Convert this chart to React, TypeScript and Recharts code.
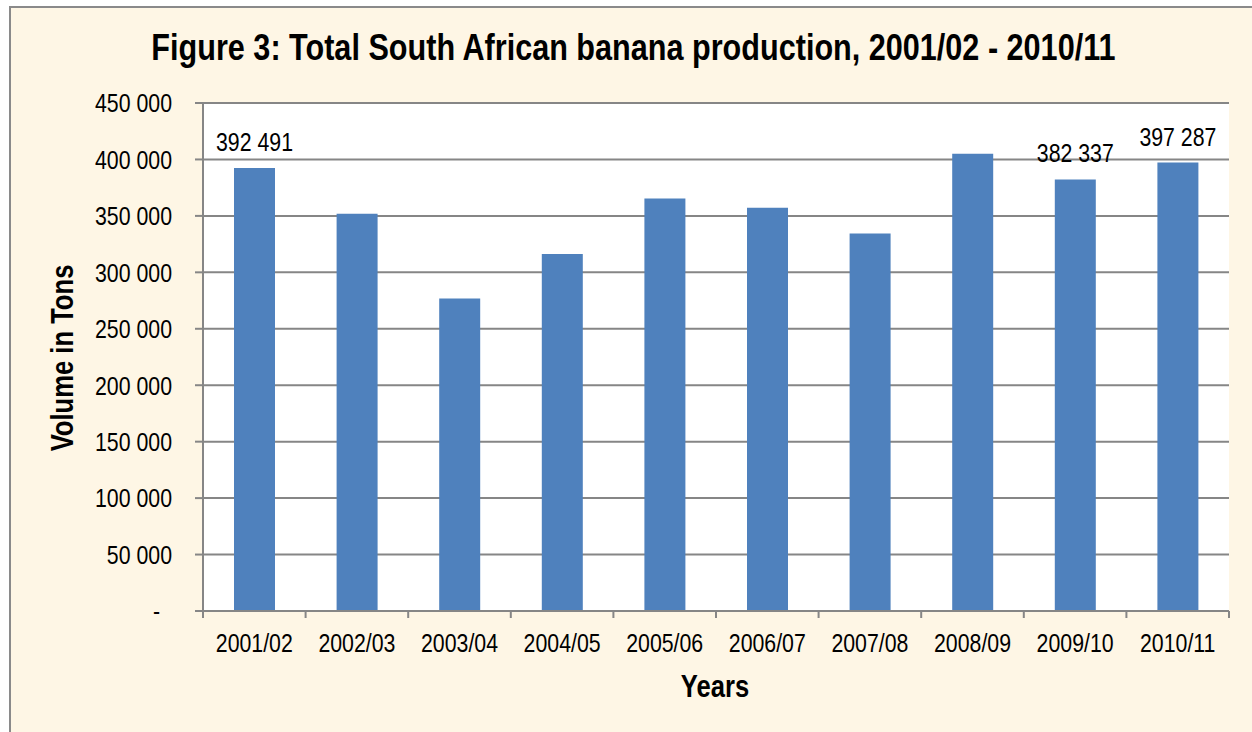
import React from "react";
import { BarChart, Bar, XAxis, YAxis, CartesianGrid, LabelList, Label } from "recharts";

const years = ["2001/02", "2002/03", "2003/04", "2004/05", "2005/06", "2006/07", "2007/08", "2008/09", "2009/10", "2010/11"];
const production = [392491, 352000, 276800, 316300, 365300, 357300, 334300, 405100, 382337, 397287];
const shownLabels = ["392 491", "", "", "", "", "", "", "", "382 337", "397 287"];
const yTicks = [0, 50000, 100000, 150000, 200000, 250000, 300000, 350000, 400000, 450000];

const data = years.map((y, i) => ({ year: y, value: production[i], label: shownLabels[i] }));

const FONT = "'Liberation Sans', Arial, sans-serif";
const GRID = "#868686";
const SX = 0.82;

const fmt = (v: number) => {
  if (v === 0) return "-";
  return String(v).replace(/\B(?=(\d{3})+(?!\d))/g, " ");
};

const NText = (p: any) => {
  const { x, y, anchor = "middle", size = 26, bold = false, rotate = 0, sx = SX, dy, children } = p;
  const rot = rotate ? ` rotate(${rotate})` : "";
  return (
    <text
      transform={`translate(${x},${y})${rot} scale(${sx},1)`}
      dy={dy}
      textAnchor={anchor}
      fontFamily={FONT}
      fontSize={size}
      fontWeight={bold ? "bold" : "normal"}
      fill="#000"
    >
      {children}
    </text>
  );
};

const YTick = (props: any) => {
  const { x, y, payload } = props;
  const isZero = payload.value === 0;
  return (
    <NText x={isZero ? x - 12 : x} y={y} dy="0.36em" anchor="end">
      {fmt(payload.value)}
    </NText>
  );
};

const XTick = (props: any) => {
  const { x, y, payload, index } = props;
  const half = payload && payload.offset ? payload.offset : 51.3;
  const axisY = y - 23;
  return (
    <g>
      <line x1={x - half} x2={x - half} y1={axisY} y2={axisY + 7} stroke={GRID} strokeWidth={2} />
      {index === years.length - 1 && (
        <line x1={x + half} x2={x + half} y1={axisY} y2={axisY + 7} stroke={GRID} strokeWidth={2} />
      )}
      <NText x={x} y={y} dy="0.71em">
        {payload.value}
      </NText>
    </g>
  );
};

const renderLabel = (props: any) => {
  const { x, y, width, value } = props;
  if (!value) return null;
  return (
    <NText x={x + width / 2} y={y - 17}>
      {value}
    </NText>
  );
};

const XTitle = (props: any) => {
  const vb = props.viewBox || { x: 203, y: 611, width: 1026, height: 121 };
  return (
    <NText x={vb.x + vb.width / 2 - 1} y={vb.y + 86} size={32} bold sx={0.8}>
      Years
    </NText>
  );
};

const YTitle = (props: any) => {
  const vb = props.viewBox || { x: 0, y: 103, width: 203, height: 508 };
  return (
    <NText x={vb.x + 73} y={vb.y + vb.height / 2 + 1} size={32} bold sx={0.8} rotate={-90}>
      Volume in Tons
    </NText>
  );
};

export default function App() {
  return (
    <div style={{ position: "absolute", left: 0, top: 0, width: 1252, height: 732, background: "#fff", overflow: "hidden" }}>
      <div
        style={{
          position: "absolute",
          left: 9,
          top: 6,
          width: 1260,
          height: 740,
          background: "#FEF6E5",
          borderLeft: "2px solid #8a8a8a",
          borderTop: "2px solid #8a8a8a",
        }}
      />
      <div
        style={{
          position: "absolute",
          left: 0,
          top: 26,
          width: 1267,
          textAlign: "center",
          fontFamily: FONT,
          fontWeight: "bold",
          fontSize: 36,
          color: "#000",
          lineHeight: "44px",
          transform: "scaleX(0.85)",
          transformOrigin: "633px 0",
          whiteSpace: "nowrap",
        }}
      >
        Figure 3: Total South African banana production, 2001/02 - 2010/11
      </div>
      <div style={{ position: "absolute", left: 0, top: 0 }}>
        <BarChart
          width={1252}
          height={732}
          data={data}
          margin={{ top: 103, right: 23, bottom: 0, left: 0 }}
          barCategoryGap="20%"
        >
          <CartesianGrid vertical={false} stroke={GRID} strokeWidth={2} fill="#ffffff" />
          <XAxis
            dataKey="year"
            height={121}
            axisLine={{ stroke: GRID, strokeWidth: 2 }}
            tickLine={false}
            tickSize={6}
            tick={<XTick />}
            tickMargin={17}
            interval={0}
          >
            <Label content={<XTitle />} />
          </XAxis>
          <YAxis
            width={203}
            domain={[0, 450000]}
            ticks={yTicks}
            interval={0}
            axisLine={{ stroke: GRID, strokeWidth: 2 }}
            tickLine={{ stroke: GRID, strokeWidth: 2 }}
            tickSize={8}
            tickMargin={23}
            tick={<YTick />}
          >
            <Label content={<YTitle />} />
          </YAxis>
          <Bar dataKey="value" fill="#4F81BD" barSize={41} isAnimationActive={false}>
            <LabelList dataKey="label" content={renderLabel} />
          </Bar>
        </BarChart>
      </div>
    </div>
  );
}
